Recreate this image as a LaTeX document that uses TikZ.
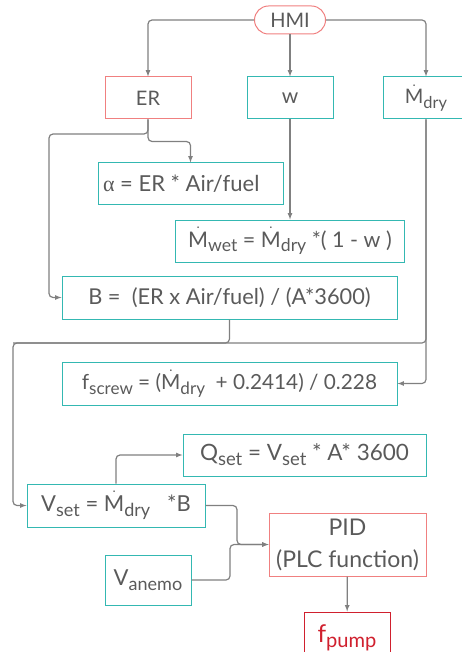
\documentclass[tikz,border=0pt]{standalone}
\usepackage{fontspec}
\usepackage{graphicx}
\setmainfont{Lato}
\newfontfamily\greekserif{Liberation Serif}
\usetikzlibrary{calc,arrows}
\definecolor{tealbox}{RGB}{52,184,178}
\definecolor{salmonbox}{RGB}{240,128,128}
\definecolor{crimbox}{RGB}{208,32,46}
\definecolor{textgray}{RGB}{90,90,90}
\definecolor{wiregray}{RGB}{128,128,128}
\newcommand\subtxt[1]{\raisebox{-0.45ex}{\scalebox{0.82}{#1}}}
\newcommand\Mdot{$\dot{\mathrm{M}}$}
\newcommand\fs[1]{\fontsize{#1}{#1}\selectfont}
\tikzset{
  blk/.style={draw=tealbox,line width=1pt,text=textgray,inner sep=0pt,
    minimum height=42,font=\fs{20}},
  redblk/.style={blk,draw=salmonbox},
  wire/.style={draw=wiregray,line width=1.2pt,rounded corners=4pt,-latex},
}
\begin{document}
\begin{tikzpicture}[x=1pt,y=-1pt]
  \useasboundingbox (0,0) rectangle (461,652);
  \node[redblk,rounded corners=14pt,minimum width=71,minimum height=28,
    font=\fs{20}](hmi)at(290,20){HMI};
  \node[redblk,minimum width=86](er)at(148,98){ER};
  \node[blk,minimum width=86,font=\fs{21}](w)at(290,98){w};
  \node[blk,minimum width=86](mdry)at(426,98){\Mdot\subtxt{dry}};
  \node[blk,minimum width=185,font=\fs{22}](alpha)at(190.5,184){\makebox[175pt][l]{{\greekserif α} = ER * Air/fuel}};
  \node[blk,minimum width=229,font=\fs{21.5}](mwet)at(290,241){\Mdot\subtxt{wet} = \Mdot\subtxt{dry} *( 1 - w )};
  \node[blk,minimum width=335,minimum height=43,font=\fs{21.8}](b)at(229.5,297.5){B = ~(ER x Air/fuel) / (A*3600)};
  \node[blk,minimum width=335,minimum height=43,font=\fs{20.8}](fscrew)at(229.5,383.5){f\subtxt{screw} = (\Mdot\subtxt{dry} ~+ 0.2414) / 0.228};
  \node[blk,minimum width=243,font=\fs{22.5}](qset)at(304.5,455){Q\subtxt{set} = V\subtxt{set} * A* 3600};
  \node[blk,minimum width=178,minimum height=43,font=\fs{22}](vset)at(116,505.5){V\subtxt{set} = \Mdot\subtxt{dry} ~~*B};
  \node[redblk,minimum width=157,minimum height=63,align=center,font=\fs{23}](pid)at(347.5,544.5){PID\\[9pt](PLC function)};
  \node[blk,minimum width=86,minimum height=50,font=\fs{22}](vanemo)at(148,580){V\subtxt{anemo}};
  \node[redblk,draw=crimbox,text=crimbox,minimum width=86,minimum height=52,font=\fs{24.5}](fpump)at(347,638){f\subtxt{pump}};
  \coordinate (erl) at (49,134);
  \coordinate (bus) at (13,343);
  \coordinate (mixa) at (237,544.5);
  \coordinate (mixb) at (230,544.5);
  \draw[wire](hmi.west)-|(er.north);
  \draw[wire](hmi.east)-|(mdry.north);
  \draw[wire](hmi)--(w);
  \draw[wire](er.south)|-(erl)|-(b.west);
  \draw[wire](er.south)--++(0,22)-|(alpha.north);
  \draw[wire](w)--(mwet);
  \draw[wire](mdry.south)|-(fscrew.east);
  \draw[wire](mdry.south)|-(bus)|-(vset.west);
  \draw[wire,-](b.south)|-(bus);
  \draw[wire](vset.north)|-(qset.west);
  \draw[wire](vset.east)-|(mixa)--(pid.west);
  \draw[wire](vanemo.east)-|(mixb)--(pid.west);
  \draw[wire](pid)--(fpump);
\end{tikzpicture}
\end{document}
